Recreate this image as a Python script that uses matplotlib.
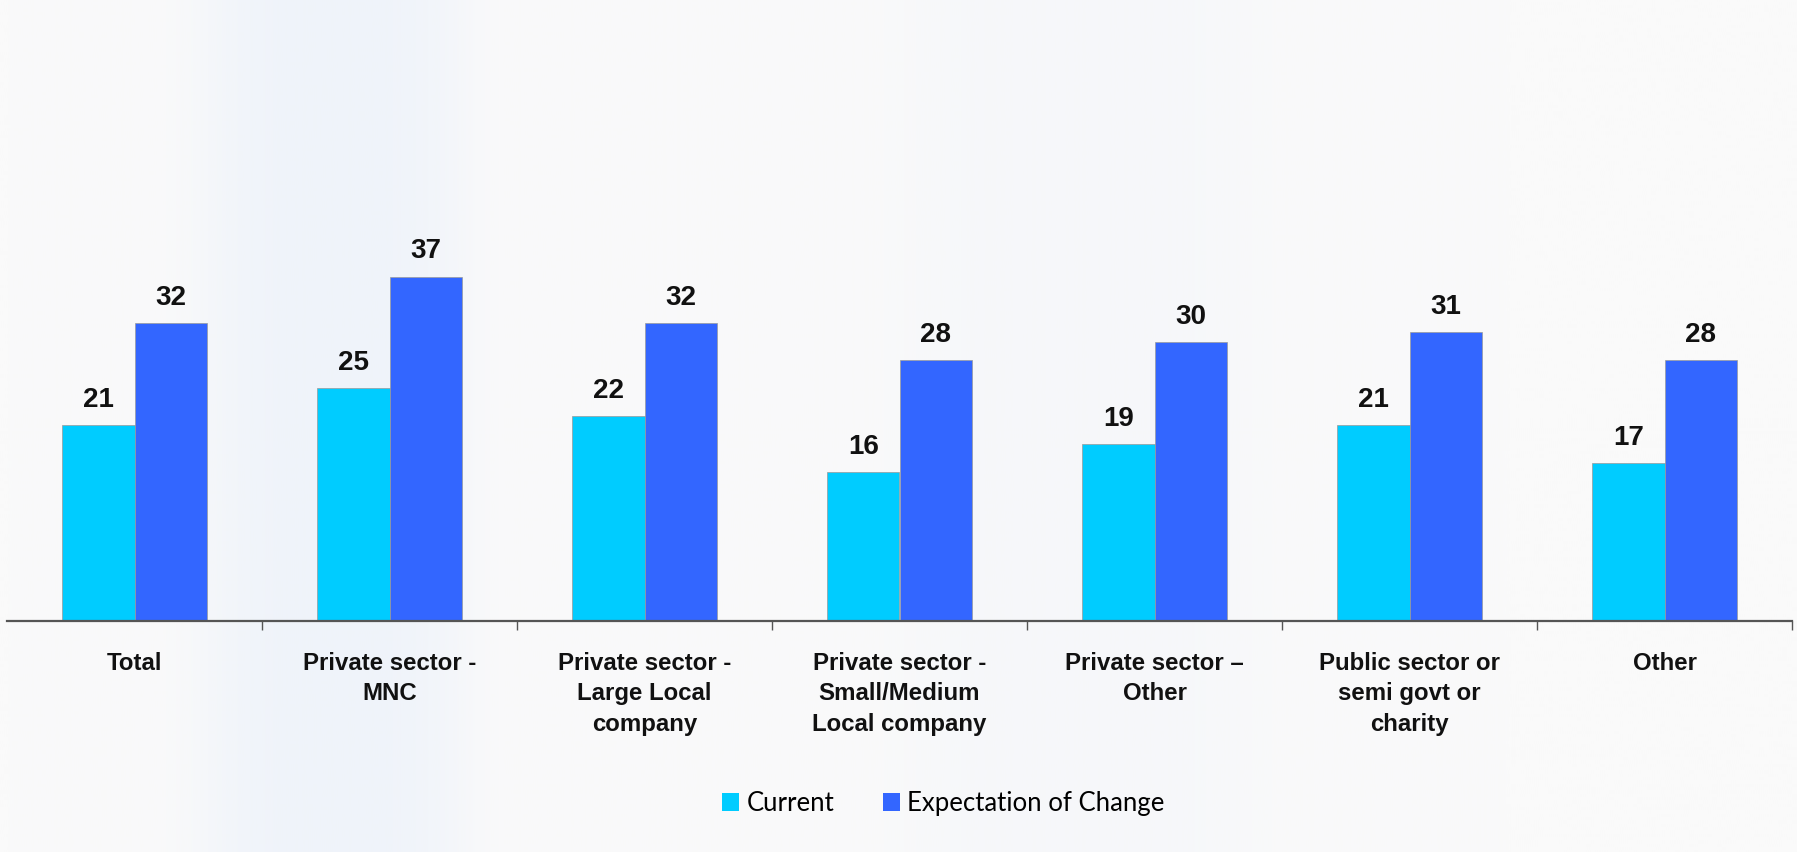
import numpy as np
import matplotlib
matplotlib.use("Agg")
import matplotlib.pyplot as plt
from matplotlib.patches import Patch

categories = [
    "Total",
    "Private sector -\nMNC",
    "Private sector -\nLarge Local\ncompany",
    "Private sector -\nSmall/Medium\nLocal company",
    "Private sector \u2013\nOther",
    "Public sector or\nsemi govt or\ncharity",
    "Other",
]
current = [21, 25, 22, 16, 19, 21, 17]
expectation = [32, 37, 32, 28, 30, 31, 28]
series_names = ["Current", "Expectation of Change"]

CYAN = "#00CCFF"
BLUE = "#3366FF"
BG = "#FAFAFA"

fig = plt.figure(figsize=(17.97, 8.52), dpi=100, facecolor=BG)

# soft watermark band behind the chart
bg_ax = fig.add_axes([0, 0, 1, 1], zorder=0)
xs = np.linspace(0, 1, 900)
band = np.exp(-((xs - 0.185) / 0.075) ** 4) * 0.8 + np.exp(-((xs - 0.60) / 0.10) ** 4) * 0.3
base = np.array([250, 250, 250]) / 255
tint = np.array([237, 242, 250]) / 255
img = base[None, :] * (1 - band[:, None]) + tint[None, :] * band[:, None]
bg_ax.imshow(img[None, :, :], aspect="auto", extent=[0, 1, 0, 1])
bg_ax.set_axis_off()

ax = fig.add_axes([7 / 1797, 1 - 621 / 852, (1792 - 7) / 1797, 621 / 852], zorder=1)
ax.patch.set_alpha(0)

x = np.arange(len(categories))
w = 0.283
b1 = ax.bar(x - w / 2, current, w, color=CYAN, edgecolor="#9a9a9a", linewidth=0.5, label=series_names[0])
b2 = ax.bar(x + w / 2, expectation, w, color=BLUE, edgecolor="#9a9a9a", linewidth=0.5, label=series_names[1])

for bars, vals in ((b1, current), (b2, expectation)):
    for rect, v in zip(bars, vals):
        ax.annotate(str(v), (rect.get_x() + rect.get_width() / 2, v),
                    xytext=(0, 13), textcoords="offset points",
                    ha="center", va="baseline", fontsize=20, fontweight="bold",
                    family="Liberation Sans", color="#111111")

ax.set_xlim(-0.5, len(categories) - 0.5)
ax.set_ylim(0, 621 / 9.31)

for s in ("top", "right", "left"):
    ax.spines[s].set_visible(False)
ax.spines["bottom"].set_color("#555555")
ax.spines["bottom"].set_linewidth(1.6)
ax.set_yticks([])

ax.set_xticks(x)
ax.set_xticklabels(categories, fontsize=17.3, fontweight="bold", family="Liberation Sans",
                   linespacing=1.42, color="#111111")
ax.tick_params(axis="x", which="major", length=0, pad=22)
ax.set_xticks(np.arange(len(categories)) + 0.5, minor=True)
ax.tick_params(axis="x", which="minor", length=6.5, width=1, color="#555555", direction="out")

handles = [Patch(facecolor=CYAN, edgecolor="none"), Patch(facecolor=BLUE, edgecolor="none")]
fig.legend(handles, series_names, loc="center", bbox_to_anchor=(0.525, 0.057), ncol=2,
           frameon=False, prop={"family": "Lato", "size": 18.5},
           handlelength=0.65, handleheight=0.72, handletextpad=0.3, columnspacing=1.9)

fig.savefig("out.png", dpi=100, facecolor=BG)
